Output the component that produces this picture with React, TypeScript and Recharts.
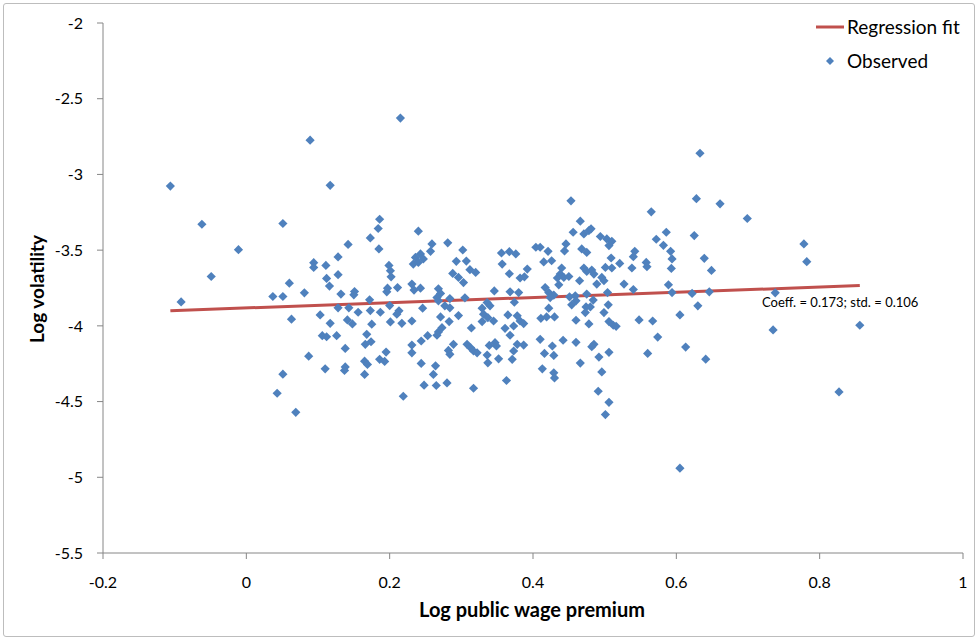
import { ScatterChart, Scatter, XAxis, YAxis, Legend, Label } from 'recharts';

// log public wage premium (x) and log volatility (y)
const premium = [
  -0.106, -0.062, 0.051, -0.011, -0.049, 0.06, -0.091, 0.037, 0.051, 0.063, 0.051, 0.043, 0.069, 0.089, 0.215, 0.117,
  0.186, 0.184, 0.24, 0.173, 0.142, 0.185, 0.128, 0.094, 0.094, 0.111, 0.199, 0.201, 0.202, 0.112, 0.128, 0.116,
  0.197, 0.211, 0.196, 0.081, 0.132, 0.151, 0.15, 0.172, 0.128, 0.143, 0.173, 0.187, 0.2, 0.213, 0.21, 0.103,
  0.156, 0.141, 0.148, 0.117, 0.175, 0.201, 0.217, 0.106, 0.112, 0.126, 0.168, 0.166, 0.174, 0.138, 0.195, 0.087,
  0.186, 0.193, 0.165, 0.169, 0.11, 0.138, 0.137, 0.165, 0.219, 0.259, 0.281, 0.302, 0.257, 0.236, 0.243, 0.247,
  0.233, 0.24, 0.293, 0.307, 0.312, 0.32, 0.356, 0.367, 0.376, 0.404, 0.357, 0.392, 0.367, 0.382, 0.388, 0.288,
  0.296, 0.303, 0.231, 0.234, 0.243, 0.268, 0.271, 0.346, 0.368, 0.38, 0.268, 0.266, 0.284, 0.305, 0.374, 0.277,
  0.284, 0.246, 0.336, 0.34, 0.329, 0.331, 0.337, 0.345, 0.329, 0.271, 0.296, 0.283, 0.231, 0.365, 0.378, 0.382,
  0.387, 0.314, 0.273, 0.268, 0.266, 0.361, 0.373, 0.368, 0.253, 0.244, 0.231, 0.231, 0.289, 0.282, 0.284, 0.308,
  0.313, 0.317, 0.322, 0.339, 0.347, 0.349, 0.378, 0.387, 0.373, 0.336, 0.337, 0.352, 0.371, 0.244, 0.264, 0.261,
  0.363, 0.248, 0.265, 0.28, 0.317, 0.453, 0.565, 0.466, 0.456, 0.471, 0.478, 0.481, 0.494, 0.503, 0.51, 0.506,
  0.572, 0.41, 0.446, 0.444, 0.421, 0.468, 0.475, 0.542, 0.54, 0.415, 0.426, 0.509, 0.521, 0.501, 0.51, 0.558,
  0.559, 0.538, 0.44, 0.438, 0.471, 0.475, 0.482, 0.485, 0.434, 0.443, 0.45, 0.465, 0.496, 0.499, 0.489, 0.527,
  0.54, 0.436, 0.417, 0.422, 0.429, 0.424, 0.504, 0.451, 0.459, 0.46, 0.454, 0.475, 0.484, 0.474, 0.473, 0.48,
  0.422, 0.505, 0.499, 0.411, 0.419, 0.43, 0.46, 0.478, 0.506, 0.512, 0.516, 0.548, 0.567, 0.41, 0.442, 0.46,
  0.574, 0.427, 0.416, 0.429, 0.485, 0.482, 0.506, 0.492, 0.56, 0.466, 0.413, 0.496, 0.429, 0.43, 0.491, 0.506,
  0.501, 0.633, 0.628, 0.661, 0.699, 0.586, 0.625, 0.582, 0.778, 0.592, 0.594, 0.639, 0.593, 0.782, 0.649, 0.589,
  0.594, 0.622, 0.646, 0.738, 0.63, 0.605, 0.856, 0.735, 0.613, 0.641, 0.827, 0.605,
];

const volatility = [
  -3.077, -3.329, -3.324, -3.497, -3.674, -3.718, -3.842, -3.806, -3.806, -3.956, -4.319, -4.445, -4.571, -2.774, -2.628, -3.072,
  -3.296, -3.357, -3.375, -3.419, -3.462, -3.492, -3.545, -3.583, -3.614, -3.601, -3.601, -3.636, -3.676, -3.687, -3.662, -3.737,
  -3.751, -3.747, -3.775, -3.782, -3.79, -3.773, -3.795, -3.828, -3.881, -3.881, -3.899, -3.91, -3.866, -3.901, -3.923, -3.928,
  -3.91, -3.961, -3.987, -3.983, -3.989, -3.974, -3.983, -4.065, -4.072, -4.065, -4.056, -4.122, -4.105, -4.149, -4.173, -4.2,
  -4.221, -4.235, -4.233, -4.255, -4.284, -4.271, -4.294, -4.321, -4.465, -3.459, -3.452, -3.499, -3.508, -3.548, -3.525, -3.558,
  -3.592, -3.581, -3.574, -3.572, -3.629, -3.647, -3.519, -3.51, -3.525, -3.481, -3.592, -3.625, -3.656, -3.684, -3.676, -3.654,
  -3.68, -3.714, -3.724, -3.764, -3.751, -3.755, -3.786, -3.769, -3.775, -3.78, -3.835, -3.813, -3.82, -3.815, -3.844, -3.868,
  -3.881, -3.883, -3.846, -3.868, -3.883, -3.923, -3.946, -3.968, -3.972, -3.941, -3.932, -3.972, -3.968, -3.928, -3.934, -3.968,
  -3.985, -4.014, -4.012, -4.04, -4.062, -4.016, -4.001, -4.062, -4.065, -4.1, -4.127, -4.178, -4.122, -4.162, -4.188, -4.122,
  -4.145, -4.166, -4.178, -4.129, -4.111, -4.133, -4.122, -4.127, -4.166, -4.193, -4.244, -4.218, -4.221, -4.248, -4.264, -4.321,
  -4.361, -4.392, -4.394, -4.377, -4.412, -3.174, -3.247, -3.309, -3.382, -3.393, -3.371, -3.359, -3.41, -3.426, -3.442, -3.47,
  -3.428, -3.481, -3.459, -3.505, -3.508, -3.492, -3.515, -3.508, -3.543, -3.578, -3.57, -3.552, -3.588, -3.614, -3.618, -3.581,
  -3.609, -3.618, -3.618, -3.658, -3.618, -3.641, -3.631, -3.658, -3.684, -3.68, -3.674, -3.702, -3.68, -3.702, -3.724, -3.724,
  -3.76, -3.729, -3.747, -3.78, -3.797, -3.813, -3.78, -3.808, -3.802, -3.835, -3.861, -3.79, -3.83, -3.875, -3.912, -3.875,
  -3.883, -3.861, -3.912, -3.95, -3.941, -3.941, -3.963, -3.987, -3.972, -3.996, -4.003, -3.961, -3.968, -4.089, -4.095, -4.109,
  -4.074, -4.133, -4.182, -4.195, -4.122, -4.138, -4.175, -4.206, -4.182, -4.246, -4.284, -4.304, -4.31, -4.344, -4.432, -4.505,
  -4.586, -2.86, -3.16, -3.194, -3.291, -3.382, -3.404, -3.468, -3.459, -3.508, -3.558, -3.554, -3.621, -3.576, -3.634, -3.729,
  -3.78, -3.786, -3.775, -3.782, -3.868, -3.928, -3.996, -4.027, -4.14, -4.22, -4.436, -4.94,
];

// fitted line end points (min and max premium)
const fitPremium = [-0.106, 0.856];
const fitVolatility = [-3.9, -3.734];

const xTicks = [-0.2, 0, 0.2, 0.4, 0.6, 0.8, 1];
const yTicks = [-5.5, -5, -4.5, -4, -3.5, -3, -2.5, -2];

const observed = premium.map((x, i) => ({ x, y: volatility[i] }));
const fit = fitPremium.map((x, i) => ({ x, y: fitVolatility[i] }));

const BLUE = '#4F81BD';
const RED = '#C0504D';
const AXIS = '#868686';
const FONT = 'Lato, Carlito, Calibri, sans-serif';

function Diamond(props: any) {
  const { cx, cy } = props;
  if (cx == null || cy == null) return null;
  const r = 4.6;
  return (
    <polygon
      points={`${cx},${cy - r} ${cx + r},${cy} ${cx},${cy + r} ${cx - r},${cy}`}
      fill={BLUE}
    />
  );
}

const NoShape = () => <g />;

function LegendBox() {
  return (
    <div style={{ fontFamily: FONT, fontSize: 19, color: '#000', lineHeight: '34px' }}>
      <div style={{ display: 'flex', alignItems: 'center' }}>
        <svg width={31} height={10}>
          <line x1={0} y1={5} x2={28} y2={5} stroke={RED} strokeWidth={3} />
        </svg>
        <span>Regression fit</span>
      </div>
      <div style={{ display: 'flex', alignItems: 'center' }}>
        <svg width={31} height={12}>
          <polygon points="14,2 18,6 14,10 10,6" fill={BLUE} />
        </svg>
        <span>Observed</span>
      </div>
    </div>
  );
}

export default function App() {
  return (
    <div style={{ position: 'absolute', left: 0, top: 0, width: 978, height: 639, background: '#fff' }}>
      <ScatterChart width={978} height={639} margin={{ top: 23, right: 15, bottom: 0, left: 0 }}>
        <XAxis
          type="number"
          dataKey="x"
          domain={[-0.2, 1]}
          ticks={xTicks}
          height={86}
          tickSize={6}
          tickMargin={18}
          axisLine={{ stroke: AXIS }}
          tickLine={{ stroke: AXIS }}
          tick={{ fill: '#000', fontSize: 16, fontFamily: FONT }}
        >
          <Label
            content={() => (
              <text x={532} y={617} textAnchor="middle" fontFamily={FONT} fontSize={20} fontWeight="bold" fill="#000">
                Log public wage premium
              </text>
            )}
          />
        </XAxis>
        <YAxis
          type="number"
          dataKey="y"
          domain={[-5.5, -2]}
          ticks={yTicks}
          width={103}
          tickSize={6}
          tickMargin={14}
          axisLine={{ stroke: AXIS }}
          tickLine={{ stroke: AXIS }}
          tick={{ fill: '#000', fontSize: 16, fontFamily: FONT }}
        >
          <Label
            content={() => (
              <text
                x={36}
                y={289}
                transform="rotate(-90, 36, 289)"
                textAnchor="middle"
                dominantBaseline="central"
                fontFamily={FONT}
                fontSize={19}
                fontWeight="bold"
                fill="#000"
              >
                Log volatility
              </text>
            )}
          />
        </YAxis>
        <Legend
          layout="vertical"
          align="center"
          verticalAlign="middle"
          content={() => <LegendBox />}
          wrapperStyle={{ left: 816, top: 10, width: 160 }}
        />
        <Scatter
          name="Regression fit"
          data={fit}
          line={{ stroke: RED, strokeWidth: 3 }}
          shape={NoShape}
          isAnimationActive={false}
        />
        <Scatter name="Observed" data={observed} shape={Diamond} isAnimationActive={false} />
      </ScatterChart>
      <div
        style={{
          position: 'absolute',
          left: 762,
          top: 294,
          fontFamily: FONT,
          fontSize: 13,
          color: '#000',
          whiteSpace: 'nowrap',
        }}
      >
        Coeff. = 0.173; std. = 0.106
      </div>
      <div
        style={{
          position: 'absolute',
          left: 3,
          top: 3,
          width: 972,
          height: 634,
          boxSizing: 'border-box',
          border: '1px solid #BDBDBD',
          borderRadius: 3,
          pointerEvents: 'none',
        }}
      />
    </div>
  );
}
